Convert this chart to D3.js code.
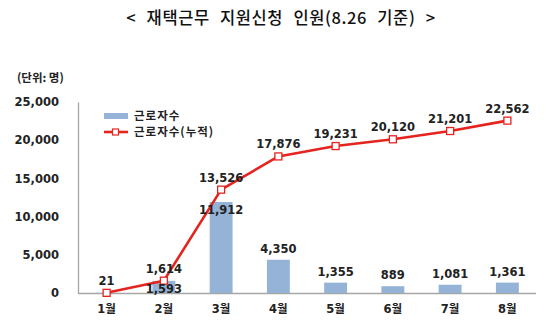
<!DOCTYPE html>
<html>
<head>
<meta charset="utf-8">
<script src="https://cdn.jsdelivr.net/npm/d3@7"></script>
<style>
  html, body { margin: 0; padding: 0; background: #fff; }
  svg { display: block; }
</style>
</head>
<body>
<svg id="chart" width="560" height="325"></svg>
<script>
// Monthly remote-work applicants and their running total
const months = ["1월", "2월", "3월", "4월", "5월", "6월", "7월", "8월"];
const monthly = [21, 1593, 11912, 4350, 1355, 889, 1081, 1361];
const cumulative = [21, 1614, 13526, 17876, 19231, 20120, 21201, 22562];
const yTicks = [0, 5000, 10000, 15000, 20000, 25000];
const seriesNames = ["근로자수", "근로자수(누적)"];
const titleText = "< 재택근무 지원신청 인원(8.26 기준) >";
const unitText = "(단위: 명)";

const svg = d3.select("#chart");
const margin = { left: 78, right: 24, top: 102, bottom: 32 };
const W = 560, H = 325;

const x = d3.scaleBand().domain(months).range([margin.left, W - margin.right]).paddingInner(0.6).paddingOuter(0.3);
const y = d3.scaleLinear().domain([0, 25000]).range([H - margin.bottom, margin.top]);

const barColor = "#95b3d7";
const lineColor = "#e5231f";
const tickFont = "'DejaVu Sans', 'Noto Sans CJK KR', sans-serif";
const fmt = d3.format(",");

// Title
svg.append("text")
  .attr("x", 281).attr("y", 24)
  .attr("text-anchor", "middle")
  .attr("font-family", "'Noto Sans CJK KR', sans-serif")
  .attr("font-size", 16.5).attr("font-weight", 500)
  .attr("word-spacing", 6)
  .attr("letter-spacing", 0.6)
  .attr("fill", "#111")
  .text(titleText);

// Unit note
svg.append("text")
  .attr("x", 17).attr("y", 82)
  .attr("font-family", "'Noto Sans CJK KR', sans-serif")
  .attr("font-size", 11.5).attr("font-weight", 700)
  .attr("fill", "#222")
  .text(unitText);

// Y axis
const yAxis = svg.append("g")
  .attr("transform", `translate(${margin.left},0)`)
  .call(d3.axisLeft(y).tickValues(yTicks).tickSize(0).tickPadding(19).tickFormat(fmt));
yAxis.select(".domain").attr("stroke", "#a6a6a6").attr("stroke-width", 1.3);
yAxis.selectAll("text")
  .attr("font-family", tickFont).attr("font-size", 11.5).attr("font-weight", 700)
  .attr("fill", "#222");

// X axis
const xAxis = svg.append("g")
  .attr("transform", `translate(0,${y(0)})`)
  .call(d3.axisBottom(x).tickSize(0).tickPadding(12));
xAxis.select(".domain").attr("stroke", "#a6a6a6").attr("stroke-width", 1.3)
  .attr("d", `M${margin.left},0.5H${W - margin.right}`);
xAxis.selectAll("text")
  .attr("font-family", tickFont).attr("font-size", 11.5).attr("font-weight", 700)
  .attr("fill", "#222");

// Bars
svg.append("g").selectAll("rect")
  .data(monthly)
  .join("rect")
  .attr("x", (d, i) => x(months[i]))
  .attr("width", x.bandwidth())
  .attr("y", d => y(d))
  .attr("height", d => y(0) - y(d))
  .attr("fill", barColor);

// Cumulative line
const cx = i => x(months[i]) + x.bandwidth() / 2;
svg.append("path")
  .datum(cumulative)
  .attr("fill", "none")
  .attr("stroke", lineColor)
  .attr("stroke-width", 2.6)
  .attr("stroke-linejoin", "round")
  .attr("d", d3.line().x((d, i) => cx(i)).y(d => y(d)));

svg.append("g").selectAll("rect")
  .data(cumulative)
  .join("rect")
  .attr("x", (d, i) => cx(i) - 3.5)
  .attr("y", d => y(d) - 3.5)
  .attr("width", 7).attr("height", 7)
  .attr("fill", "#fff")
  .attr("stroke", lineColor)
  .attr("stroke-width", 1.3);

const labels = svg.append("g")
  .attr("font-family", tickFont).attr("font-size", 11.5).attr("font-weight", 700)
  .attr("fill", "#222").attr("text-anchor", "middle");

// Cumulative value labels, above each marker
labels.selectAll("text.cum")
  .data(cumulative)
  .join("text")
  .attr("class", "cum")
  .attr("x", (d, i) => cx(i))
  .attr("y", d => y(d) - 8)
  .text(d => fmt(d));

// Monthly value labels: above the bar, or just inside its top when the line sits right above it
labels.selectAll("text.bar")
  .data(monthly.map((v, i) => ({ v, i })).filter(d => cumulative[d.i] !== d.v))
  .join("text")
  .attr("class", "bar")
  .attr("x", d => cx(d.i))
  .attr("y", d => {
    const gap = y(d.v) - y(cumulative[d.i]);
    return gap < 20 ? y(d.v) + 12 : y(d.v) - 7;
  })
  .text(d => fmt(d.v));

// Legend
const lg = svg.append("g")
  .attr("font-family", "'Noto Sans CJK KR', sans-serif")
  .attr("font-size", 11.5).attr("font-weight", 700).attr("fill", "#222");
lg.append("rect").attr("x", 104).attr("y", 113).attr("width", 24).attr("height", 6).attr("fill", barColor);
lg.append("text").attr("x", 134).attr("y", 120).attr("letter-spacing", 1).text(seriesNames[0]);
lg.append("line").attr("x1", 104).attr("x2", 128).attr("y1", 132).attr("y2", 132)
  .attr("stroke", lineColor).attr("stroke-width", 2.6);
lg.append("rect").attr("x", 112.5).attr("y", 129).attr("width", 6).attr("height", 6)
  .attr("fill", "#fff").attr("stroke", lineColor).attr("stroke-width", 1.2);
lg.append("text").attr("x", 134).attr("y", 136).attr("letter-spacing", 1).text(seriesNames[1]);
</script>
</body>
</html>
